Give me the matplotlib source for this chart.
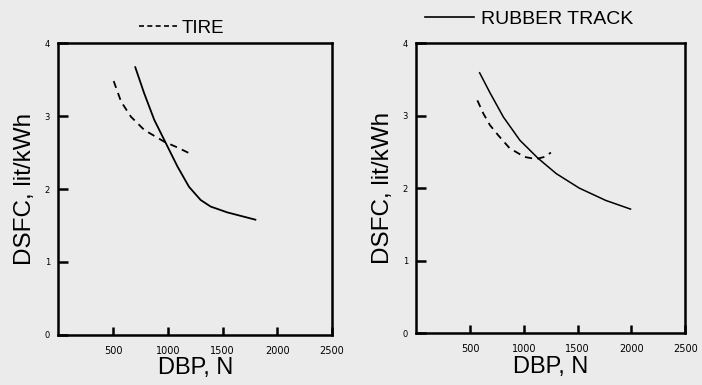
import matplotlib
matplotlib.use('Agg')
import matplotlib.pyplot as plt
from matplotlib.lines import Line2D

# DSFC vs drawbar pull
tire_dbp_L = [506, 573, 664, 785, 966, 1088, 1225]
tire_dsfc_L = [3.48, 3.20, 2.99, 2.81, 2.65, 2.57, 2.47]
track_dbp_L = [703, 785, 876, 982, 1088, 1194, 1300, 1391, 1543, 1800]
track_dsfc_L = [3.67, 3.31, 2.95, 2.63, 2.31, 2.03, 1.85, 1.76, 1.68, 1.58]

tire_dbp_R = [568, 623, 684, 761, 868, 1006, 1114, 1191, 1252]
tire_dsfc_R = [3.21, 3.03, 2.87, 2.73, 2.55, 2.43, 2.40, 2.43, 2.49]
track_dbp_R = [589, 687, 810, 963, 1133, 1301, 1515, 1761, 1992]
track_dsfc_R = [3.59, 3.31, 2.98, 2.66, 2.41, 2.20, 2.00, 1.83, 1.71]

xticks = [500, 1000, 1500, 2000, 2500]
yticks = [0, 1, 2, 3, 4]

bg = '#ebebeb'
fig = plt.figure(figsize=(7.02, 3.85), dpi=100, facecolor=bg)

def setup(ax):
    ax.set_facecolor(bg)
    ax.set_xlim(0, 2500)
    ax.set_ylim(0, 4)
    ax.set_xticks(xticks)
    ax.set_yticks(yticks)
    ax.tick_params(axis='x', direction='in', length=6, width=1.8, labelsize=7, pad=8)
    ax.tick_params(axis='y', direction='in', length=7, width=1.8, labelsize=6, pad=6)
    ax.tick_params(top=False, right=False)
    for s in ax.spines.values():
        s.set_linewidth(1.8)
    ax.set_xlabel('DBP, N', fontsize=17, family='Liberation Sans', labelpad=1)
    ax.set_ylabel('DSFC, lit/kWh', fontsize=17.5, family='Liberation Sans', labelpad=6)

ax1 = fig.add_axes([0.083, 0.130, 0.390, 0.758])
setup(ax1)
ax1.plot(tire_dbp_L, tire_dsfc_L, 'k--', lw=1.3, dashes=(4, 3))
ax1.plot(track_dbp_L, track_dsfc_L, 'k-', lw=1.3)
h1 = Line2D([], [], color='k', ls='--', lw=1.2, dashes=(3, 2))
ax1.legend([h1], ['TIRE'], loc='lower center', bbox_to_anchor=(0.45, 0.99), frameon=False,
           prop={'family': 'Liberation Sans', 'size': 13.5}, handlelength=2.0, handletextpad=0.25,
           borderaxespad=0.1)

ax2 = fig.add_axes([0.593, 0.135, 0.383, 0.753])
setup(ax2)
ax2.plot(tire_dbp_R, tire_dsfc_R, 'k--', lw=1.3, dashes=(4, 3))
ax2.plot(track_dbp_R, track_dsfc_R, 'k-', lw=1.1)
h2 = Line2D([], [], color='k', ls='-', lw=1.2)
ax2.legend([h2], ['RUBBER TRACK'], loc='lower center', bbox_to_anchor=(0.42, 1.02), frameon=False,
           prop={'family': 'Liberation Sans', 'size': 14}, handlelength=2.5, handletextpad=0.4,
           borderaxespad=0.1)

fig.savefig('out.png', dpi=100, facecolor=bg)
